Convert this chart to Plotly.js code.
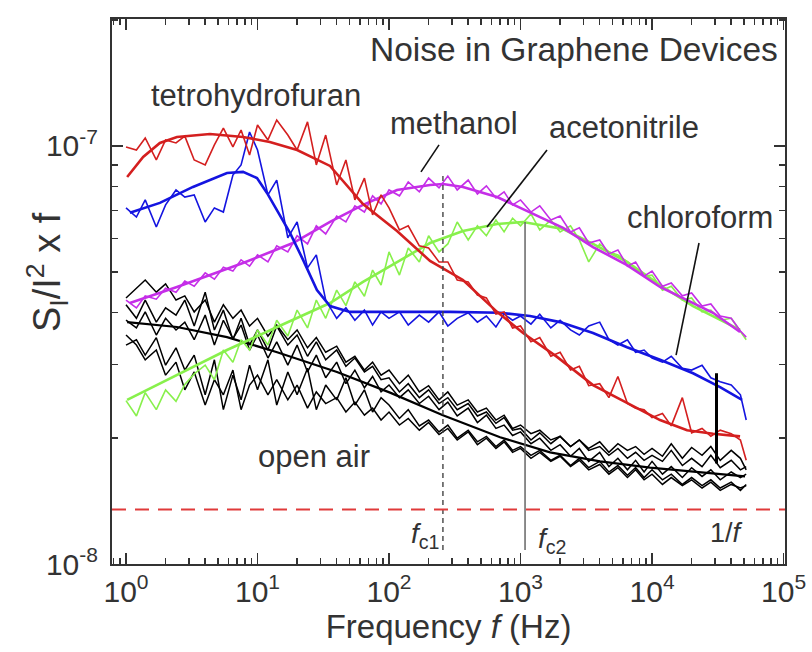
<!DOCTYPE html>
<html>
<head>
<meta charset="utf-8">
<script src="https://cdn.plot.ly/plotly-3.0.1.min.js"></script>
<style>html,body{margin:0;padding:0;background:#fff;}#chart{width:812px;height:652px;}</style>
</head>
<body>
<div id="chart"></div>
<script>
// Frequencies (Hz) for the measured spectra
const freq = [1,1.2,1.4,1.7,2,2.4,2.8,3.3,4,4.7,5.5,6.5,7.5,8.7,
  10,12,14,17,20,24,28,33,40,47,55,65,75,87,
  100,120,140,170,200,240,280,330,400,470,550,650,750,870,
  1000,1200,1400,1700,2000,2400,2800,3300,4000,4700,5500,6500,7500,8700,
  10000,12000,14000,17000,20000,24000,28000,33000,40000,47000,52000];

// Measured S_I/I^2 x f, in units of 1e-8
const thfData = [9.95,9.78,10.45,9.26,10.34,10.17,10.56,9.26,9.01,10.06,11.04,9.95,10.92,9.52,
  11.23,10.34,11.54,10.62,9.78,11.42,9.01,10.62,8.07,9.26,7.43,8.38,6.84,7.64,
  7.11,6.30,6.44,5.77,5.70,5.28,5.28,4.78,4.73,4.40,4.33,3.96,4.01,3.67,
  3.71,3.40,3.48,3.14,3.21,2.91,2.97,2.67,2.70,2.50,2.81,2.42,2.36,2.34,
  2.24,2.29,2.14,2.50,2.06,2.11,2.02,2.09,2.05,1.98,1.77];
const chlData = [7.11,6.76,7.43,6.40,7.23,7.85,7.55,7.64,6.58,7.11,6.95,8.52,9.01,10.80,
  9.78,7.64,8.29,6.03,6.58,5.11,5.49,4.28,3.87,4.10,3.83,4.05,3.73,4.01,
  3.87,4.01,3.73,3.94,3.79,4.01,3.71,3.87,3.99,3.79,3.92,3.69,3.96,3.83,
  3.92,3.75,3.96,3.67,3.83,3.63,3.53,3.71,3.79,3.44,3.34,3.44,3.21,3.25,
  3.11,3.04,3.14,2.94,2.91,2.99,2.79,2.73,2.68,2.54,2.21];
const metData = [4.28,4.10,4.38,4.30,4.57,4.47,4.75,4.62,4.97,4.80,5.13,5.02,5.34,5.16,
  5.49,5.28,5.77,5.58,6.10,5.83,6.44,6.16,6.80,6.58,7.19,6.95,7.60,7.27,
  7.85,7.60,8.20,7.77,8.38,7.94,8.47,7.85,8.29,7.68,8.03,7.51,7.77,7.23,
  7.43,6.95,7.19,6.65,6.80,6.23,6.37,5.86,5.96,5.52,5.64,5.16,5.28,4.88,
  5.02,4.62,4.70,4.38,4.45,4.14,4.19,3.92,3.87,3.61,3.49];
const aceData = [2.46,2.26,2.57,2.34,2.61,2.45,2.69,2.85,2.99,2.76,3.25,3.04,3.44,3.25,
  3.63,3.34,3.83,3.51,4.05,3.67,4.28,3.87,4.52,4.15,4.73,4.37,5.05,4.65,
  5.58,4.91,5.70,5.28,6.10,5.58,5.83,6.58,5.96,6.44,6.10,6.65,6.23,6.72,
  6.44,6.88,6.30,6.65,6.23,6.44,5.96,5.28,5.83,5.58,5.49,5.28,5.08,4.88,
  4.91,4.52,4.62,4.28,4.33,4.01,4.05,3.83,3.87,3.61,3.44];
const airA = [4.33,4.57,4.78,4.47,4.68,4.28,4.38,4.01,4.28,3.79,4.17,3.87,4.05,3.71,
  3.87,3.51,3.73,3.44,3.63,3.29,3.48,3.21,3.32,3.04,3.14,2.91,3.04,2.83,
  2.91,2.70,2.83,2.58,2.67,2.47,2.58,2.40,2.47,2.31,2.36,2.21,2.27,2.11,
  2.15,2.05,2.09,1.98,2.02,1.91,1.98,1.87,1.91,1.82,1.89,1.79,1.85,1.77,
  1.82,1.76,1.87,1.72,1.79,1.71,1.82,1.70,1.77,1.68,1.71];
const airB = [3.83,3.67,4.01,3.53,3.87,3.63,3.79,3.44,3.94,3.34,3.83,3.46,3.73,3.25,
  3.53,3.11,3.40,2.99,3.34,2.88,3.16,2.79,3.04,2.70,2.91,2.64,2.81,2.58,
  2.68,2.50,2.61,2.42,2.52,2.34,2.44,2.26,2.36,2.18,2.27,2.11,2.15,2.03,
  2.07,1.94,2.00,1.87,1.93,1.81,1.89,1.76,1.85,1.71,1.79,1.68,1.77,1.66,
  1.76,1.64,1.71,1.61,1.70,1.62,1.68,1.59,1.66,1.61,1.64];
const airC = [3.53,3.34,3.08,3.25,2.83,3.04,2.61,2.88,2.40,2.76,2.54,2.91,2.34,2.68,
  2.83,2.54,2.76,2.47,2.68,2.36,2.58,2.42,2.50,2.31,2.44,2.27,2.36,2.21,
  2.31,2.15,2.23,2.09,2.18,2.04,2.11,1.98,2.07,1.93,2.00,1.89,1.96,1.85,
  1.89,1.79,1.85,1.76,1.81,1.71,1.77,1.68,1.73,1.64,1.70,1.61,1.68,1.59,
  1.64,1.55,1.61,1.54,1.59,1.52,1.57,1.50,1.55,1.52,1.54];
const airD = [3.34,3.44,3.16,3.48,2.99,3.29,2.91,3.16,2.54,3.08,2.34,2.83,2.47,2.99,
  2.61,3.08,2.40,2.88,2.54,2.94,2.34,2.68,2.47,2.79,2.40,2.61,2.31,2.50,
  2.40,2.23,2.34,2.14,2.21,2.07,2.15,2.00,2.09,1.96,2.02,1.91,1.98,1.87,
  1.91,1.82,1.87,1.77,1.82,1.72,1.79,1.70,1.76,1.66,1.72,1.63,1.70,1.61,
  1.68,1.59,1.64,1.55,1.61,1.54,1.59,1.52,1.57,1.50,1.55];
const airE = [4.17,3.87,4.28,3.79,4.10,3.94,4.28,3.71,4.47,3.63,4.05,3.44,3.87,3.34,
  3.63,3.25,3.71,3.34,3.53,3.14,3.40,3.08,3.25,2.97,3.11,2.88,2.97,2.76,
  2.79,2.58,2.70,2.50,2.61,2.42,2.50,2.34,2.42,2.26,2.31,2.17,2.24,2.09,
  2.11,1.98,2.06,1.94,2.02,1.91,1.98,1.89,1.96,1.85,1.94,1.87,1.91,1.83,
  1.89,1.81,1.94,1.79,1.90,1.82,1.91,1.77,1.87,1.79,1.68];

// Fitted curves (frequency, value in 1e-8)
const thfFitF = [1.02,1.35,1.81,2.44,4.35,7.76,12.4,20,35.6,63.4,115,205,365,663,1045,1895,3558,6455,11500,18460,29100,46700];
const thfFitS = [8.43,9.41,10.17,10.51,10.68,10.51,10.22,9.78,8.96,7.26,6.26,5.31,4.78,4.01,3.57,3.13,2.68,2.43,2.21,2.09,2.05,2.02];
const chlFitF = [1.07,1.81,3.23,5.86,7.76,9.91,11.8,14.1,17.7,22.2,28.3,35.6,50.5,98.3,291,699,1181,1997,3558,6455,11500,20500,32900,48350];
const chlFitS = [6.92,7.31,7.98,8.62,8.67,8.38,7.72,7.03,6.19,5.34,4.52,4.14,4.01,4.01,4.01,3.99,3.92,3.79,3.57,3.30,3.08,2.86,2.65,2.47];
const metFitF = [1.07,2.44,7.76,18.6,35.6,63.4,115,205,257,365,663,1181,2105,3558,6455,11500,18460,29100,46700];
const metFitS = [4.21,4.60,5.25,5.86,6.58,7.23,7.85,8.07,8.11,7.98,7.55,6.95,6.37,5.73,5.19,4.60,4.28,3.99,3.59];
const aceFitF = [1.02,2.44,5.86,14.1,35.6,63.4,115,205,365,663,1045,2105,3558,6455,11500,20500,46700];
const aceFitS = [2.47,2.83,3.25,3.69,4.21,4.73,5.28,5.86,6.26,6.51,6.58,6.33,5.83,5.28,4.65,4.14,3.63];
const airFitF = [1.02,2.44,5.86,14.1,40.2,101.8,257,699,1676,4023,9656,23180,50940];
const airFitS = [3.79,3.69,3.49,3.21,2.88,2.57,2.27,2.01,1.85,1.76,1.70,1.66,1.62];

// Reference markers
const fc1 = 257, fc1Span = [1.08, 8.62];
const fc2 = 1082, fc2Span = [1.08, 6.58];
const oneOverF = 30900, oneOverFSpan = [1.74, 2.86];
const noiseFloor = 1.35;
const metPointerF = [240, 175], metPointerS = [10.06, 8.67];
const acePointerF = [1590, 556], acePointerS = [9.78, 6.40];
const chlPointerF = [22760, 15230], chlPointerS = [5.86, 3.16];

// Tick labels
const xTickVals = [1,10,100,1000,10000,100000];
const xTickText = ['10<sup>0</sup>','10<sup>1</sup>','10<sup>2</sup>','10<sup>3</sup>','10<sup>4</sup>','10<sup>5</sup>'];
const yTickVals = [1,10];
const yTickText = ['10<sup>-8</sup>','10<sup>-7</sup>'];

const C = {red:'#d41f1f', blue:'#1414e0', mag:'#c52ee8', green:'#88f04c', black:'#000000'};

function line(x, y, color, width, dash) {
  return {x:x, y:y, type:'scatter', mode:'lines', hoverinfo:'skip',
          line:{color:color, width:width, dash:dash||'solid'}};
}

const traces = [
  line(freq, airA, C.black, 1.5), line(freq, airB, C.black, 1.5),
  line(freq, airC, C.black, 1.5), line(freq, airD, C.black, 1.5),
  line(freq, airE, C.black, 1.5),
  line(airFitF, airFitS, C.black, 2.2),
  line(freq, aceData, C.green, 1.6), line(aceFitF, aceFitS, C.green, 2.6),
  line(freq, metData, C.mag, 1.6), line(metFitF, metFitS, C.mag, 2.6),
  line(freq, chlData, C.blue, 1.6), line(chlFitF, chlFitS, C.blue, 2.6),
  line(freq, thfData, C.red, 1.6), line(thfFitF, thfFitS, C.red, 2.6),
  line([fc1, fc1], fc1Span, '#444', 1.4, '5px,4px'),
  line([fc2, fc2], fc2Span, '#666', 1.5),
  line([oneOverF, oneOverF], oneOverFSpan, '#000', 3),
  line(metPointerF, metPointerS, '#111', 1.6),
  line(acePointerF, acePointerS, '#111', 1.6),
  line(chlPointerF, chlPointerS, '#111', 1.6)
];

const xMinor = [], yMinor = [];
for (let d = -1; d < 5; d++) for (let k = 2; k <= 9; k++) xMinor.push(k * Math.pow(10, d));
for (let k = 2; k <= 9; k++) yMinor.push(k);
yMinor.push(20);

const FONT = 'Liberation Sans, Arial, Helvetica, sans-serif';
const axisBase = {
  type:'log', showgrid:false, zeroline:false, showline:true, linecolor:'#333', linewidth:2,
  mirror:'ticks', ticks:'inside', ticklen:11, tickwidth:1.5, tickcolor:'#333',
  tickmode:'array', tickfont:{family:FONT, size:30, color:'#333'}
};

const px = v => (v - 112) / 673;
const py = v => (564 - v) / 545;
function label(text, x, y, size, extra) {
  return Object.assign({text:text, xref:'paper', yref:'paper', x:px(x), y:py(y),
    showarrow:false, xanchor:'center', yanchor:'middle',
    font:{family:FONT, size:size, color:'#333'}}, extra||{});
}

const layout = {
  width:812, height:652, margin:{l:112, r:27, t:19, b:88},
  paper_bgcolor:'#ffffff', plot_bgcolor:'#ffffff', showlegend:false,
  xaxis: Object.assign({}, axisBase, {
    range:[-0.1065, 5.011], tickvals:xTickVals, ticktext:xTickText,
    minor:{tickmode:'array', tickvals:xMinor, ticks:'inside', ticklen:6, tickwidth:1.5, tickcolor:'#333'},
    title:{text:'Frequency <i>f</i> (Hz)', font:{family:FONT, size:33, color:'#333'}, standoff:4}
  }),
  yaxis: Object.assign({}, axisBase, {
    range:[0, 1.3038], tickvals:yTickVals, ticktext:yTickText, ticklabelstandoff:6,
    minor:{tickmode:'array', tickvals:yMinor, ticks:'inside', ticklen:6, tickwidth:1.5, tickcolor:'#333'}
  }),
  shapes:[{type:'line', xref:'paper', x0:0, x1:1, yref:'y', y0:noiseFloor, y1:noiseFloor,
           line:{color:'#e03a3a', width:2, dash:'14px,9px'}}],
  annotations:[
    label('Noise in Graphene Devices', 780, 49, 33.5, {xanchor:'right'}),
    label('tetrohydrofuran', 256, 95, 31),
    label('methanol', 454, 123, 31),
    label('acetonitrile', 624, 127, 31),
    label('chloroform', 700, 217, 31),
    label('open air', 314, 456, 31),
    label('<i>f</i><sub>c1</sub>', 425, 535, 28),
    label('<i>f</i><sub>c2</sub>', 552, 540, 28),
    label('1/<i>f</i>', 726, 533, 27),
    label('S<sub>I</sub>/I<sup>2</sup> x f', 47, 272, 38, {textangle:-90})
  ]
};

Plotly.newPlot('chart', traces, layout, {staticPlot:true, displayModeBar:false});
</script>
</body>
</html>
